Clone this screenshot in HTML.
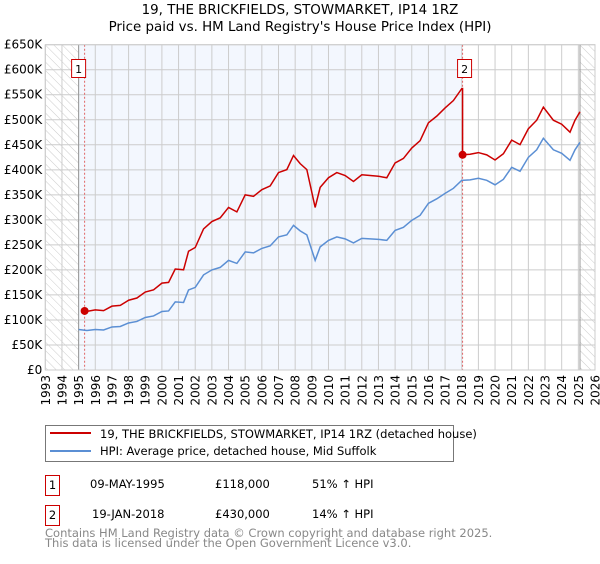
<!DOCTYPE html>
<html><head><meta charset="utf-8"><style>
body{margin:0;background:#fff;font-family:"DejaVu Sans","Liberation Sans",sans-serif;}
svg text{font-family:"DejaVu Sans","Liberation Sans",sans-serif;}
</style></head><body>
<svg id="c" width="600" height="560" xmlns="http://www.w3.org/2000/svg">
<defs><pattern id="hatch" width="6" height="6" patternUnits="userSpaceOnUse" patternTransform="rotate(-45)"><line x1="0" y1="0" x2="0" y2="6" stroke="#ccc" stroke-width="1"/></pattern></defs>
<text x="300" y="14" text-anchor="middle" font-size="13.4">19, THE BRICKFIELDS, STOWMARKET, IP14 1RZ</text>
<text x="300" y="31" text-anchor="middle" font-size="13.4">Price paid vs. HM Land Registry's House Price Index (HPI)</text>
<g id="plot"></g>
<g>
<rect x="45.5" y="425.5" width="408" height="36" fill="#fff" stroke="#777"/>
<line x1="50" y1="433" x2="91" y2="433" stroke="#cc0000" stroke-width="2"/>
<text x="100" y="438" font-size="11.5">19, THE BRICKFIELDS, STOWMARKET, IP14 1RZ (detached house)</text>
<line x1="50" y1="451" x2="91" y2="451" stroke="#5b8fd4" stroke-width="2"/>
<text x="100" y="455" font-size="11.5">HPI: Average price, detached house, Mid Suffolk</text>
</g>
<g font-size="11.5">
<rect x="45.5" y="475.5" width="14" height="20" fill="#fff" stroke="#cc0000"/>
<text x="52.5" y="489" text-anchor="middle">1</text>
<text x="90" y="488">09-MAY-1995</text><text x="215" y="488">£118,000</text><text x="312" y="488">51% ↑ HPI</text>
<rect x="45.5" y="505.5" width="14" height="20" fill="#fff" stroke="#cc0000"/>
<text x="52.5" y="519" text-anchor="middle">2</text>
<text x="92" y="518">19-JAN-2018</text><text x="215" y="518">£430,000</text><text x="312" y="518">14% ↑ HPI</text>
</g>
<text x="45" y="537" font-size="11.5" fill="#888">Contains HM Land Registry data © Crown copyright and database right 2025.</text>
<text x="45" y="547" font-size="11.5" fill="#888">This data is licensed under the Open Government Licence v3.0.</text>
</svg>
<script>
const hpiYears=[1995.0,1995.5,1996.0,1996.5,1997.0,1997.5,1998.0,1998.5,1999.0,1999.5,2000.0,2000.4,2000.8,2001.3,2001.6,2002.0,2002.5,2003.0,2003.5,2004.0,2004.5,2005.0,2005.5,2006.0,2006.5,2007.0,2007.5,2007.9,2008.3,2008.7,2009.2,2009.5,2010.0,2010.5,2011.0,2011.5,2012.0,2012.5,2013.0,2013.5,2014.0,2014.5,2015.0,2015.5,2016.0,2016.5,2017.0,2017.5,2018.0,2018.5,2019.0,2019.5,2020.0,2020.5,2021.0,2021.5,2022.0,2022.5,2022.9,2023.5,2024.0,2024.5,2024.8,2025.1];
const hpiValues=[81000,79000,81000,80000,86000,87000,94000,97000,105000,108000,117000,118000,136000,135000,160000,165000,190000,200000,205000,219000,213000,236000,234000,243000,248000,266000,270000,289000,278000,270000,219000,246000,259000,266000,262000,254000,263000,262000,261000,259000,279000,285000,299000,309000,333000,342000,353000,363000,379000,380000,383000,379000,370000,381000,405000,397000,425000,440000,463000,440000,433000,419000,440000,455000];
const saleYears=[1995.36,2018.05];
const salePrices=[118000,430000];
const yTicks=[0,50000,100000,150000,200000,250000,300000,350000,400000,450000,500000,550000,600000,650000];
const yTickLabels=["£0","£50K","£100K","£150K","£200K","£250K","£300K","£350K","£400K","£450K","£500K","£550K","£600K","£650K"];
const xTicks=[1993,1994,1995,1996,1997,1998,1999,2000,2001,2002,2003,2004,2005,2006,2007,2008,2009,2010,2011,2012,2013,2014,2015,2016,2017,2018,2019,2020,2021,2022,2023,2024,2025,2026];

const L=45.3,R=595,T=44.7,B=370,NS="http://www.w3.org/2000/svg";
const X=y=>L+(y-1993)/(2026-1993)*(R-L);
const Y=v=>B-v/650000*(B-T);
const g=document.getElementById('plot');
function mk(t,a,p){const e=document.createElementNS(NS,t);for(const k in a)e.setAttribute(k,a[k]);(p||g).appendChild(e);return e;}
function hpiAt(t){for(let i=0;i<hpiYears.length-1;i++){if(t<=hpiYears[i+1]){const f=(t-hpiYears[i])/(hpiYears[i+1]-hpiYears[i]);return hpiValues[i]+f*(hpiValues[i+1]-hpiValues[i]);}}return hpiValues[hpiValues.length-1];}
let bg=mk('rect',{x:X(1995),y:T,width:X(saleYears[1])-X(1995),height:B-T,fill:'#f3f7fe'});

let h1=mk('rect',{x:L,y:T,width:X(1995)-L,height:B-T,fill:'url(#hatch)'});

let h2=mk('rect',{x:X(2025.1),y:T,width:R-X(2025.1),height:B-T,fill:'url(#hatch)'});

yTicks.forEach((v,i)=>{
 let l=mk('line',{x1:L,x2:R,y1:Y(v),y2:Y(v),stroke:'#ccc','stroke-width':1});
 
 let t=mk('text',{x:L-3,y:Y(v)+4,'text-anchor':'end','font-size':12});t.textContent=yTickLabels[i];
 
});
xTicks.forEach(y=>{
 let l=mk('line',{x1:X(y),x2:X(y),y1:T,y2:B,stroke:'#ccc','stroke-width':1});
 
 const tx=X(y)+4.5, ty=B+5;
 let t=mk('text',{x:tx,y:ty,'text-anchor':'end','font-size':12});
 t.setAttribute('transform','rotate(-90 '+tx+' '+ty+')');
 t.textContent=y;
 
});
let b1=mk('line',{x1:X(1995),x2:X(1995),y1:T,y2:B,stroke:'#999'});
let b2=mk('line',{x1:X(2025.1),x2:X(2025.1),y1:T,y2:B,stroke:'#999'});
saleYears.forEach((s,i)=>{
 let l=mk('line',{x1:X(s),x2:X(s),y1:T,y2:B,stroke:'#e06666','stroke-dasharray':'2,2'});
 
});
let pts=hpiYears.map((y,i)=>X(y)+','+Y(hpiValues[i])).join(' ');
let hl=mk('polyline',{points:pts,fill:'none',stroke:'#5b8fd4','stroke-width':1.5});

let rp=[];
for(let k=0;k<saleYears.length;k++){
 const s=saleYears[k],e=k+1<saleYears.length?saleYears[k+1]:hpiYears[hpiYears.length-1];
 const base=hpiAt(s);const ts=[s].concat(hpiYears.filter(y=>y>s&&y<e),[e]);
 ts.forEach(t=>rp.push(X(t)+','+Y(salePrices[k]*hpiAt(t)/base)));
}
let rl=mk('polyline',{points:rp.join(' '),fill:'none',stroke:'#cc0000','stroke-width':1.5});

saleYears.forEach((s,i)=>{
 let c=mk('circle',{cx:X(s),cy:Y(salePrices[i]),r:4,fill:'#cc0000'});
 
 let bx=X(s)-(i==0?13:5), r=mk('rect',{x:bx,y:59.5,width:14,height:18,fill:'#fff',stroke:'#cc0000'});
 
 let t=mk('text',{x:bx+7,y:73,'text-anchor':'middle','font-size':11});t.textContent=String(i+1);
 
});
let fr=mk('rect',{x:L,y:T,width:R-L,height:B-T,fill:'none',stroke:'#ccc'});

</script>
</body></html>
